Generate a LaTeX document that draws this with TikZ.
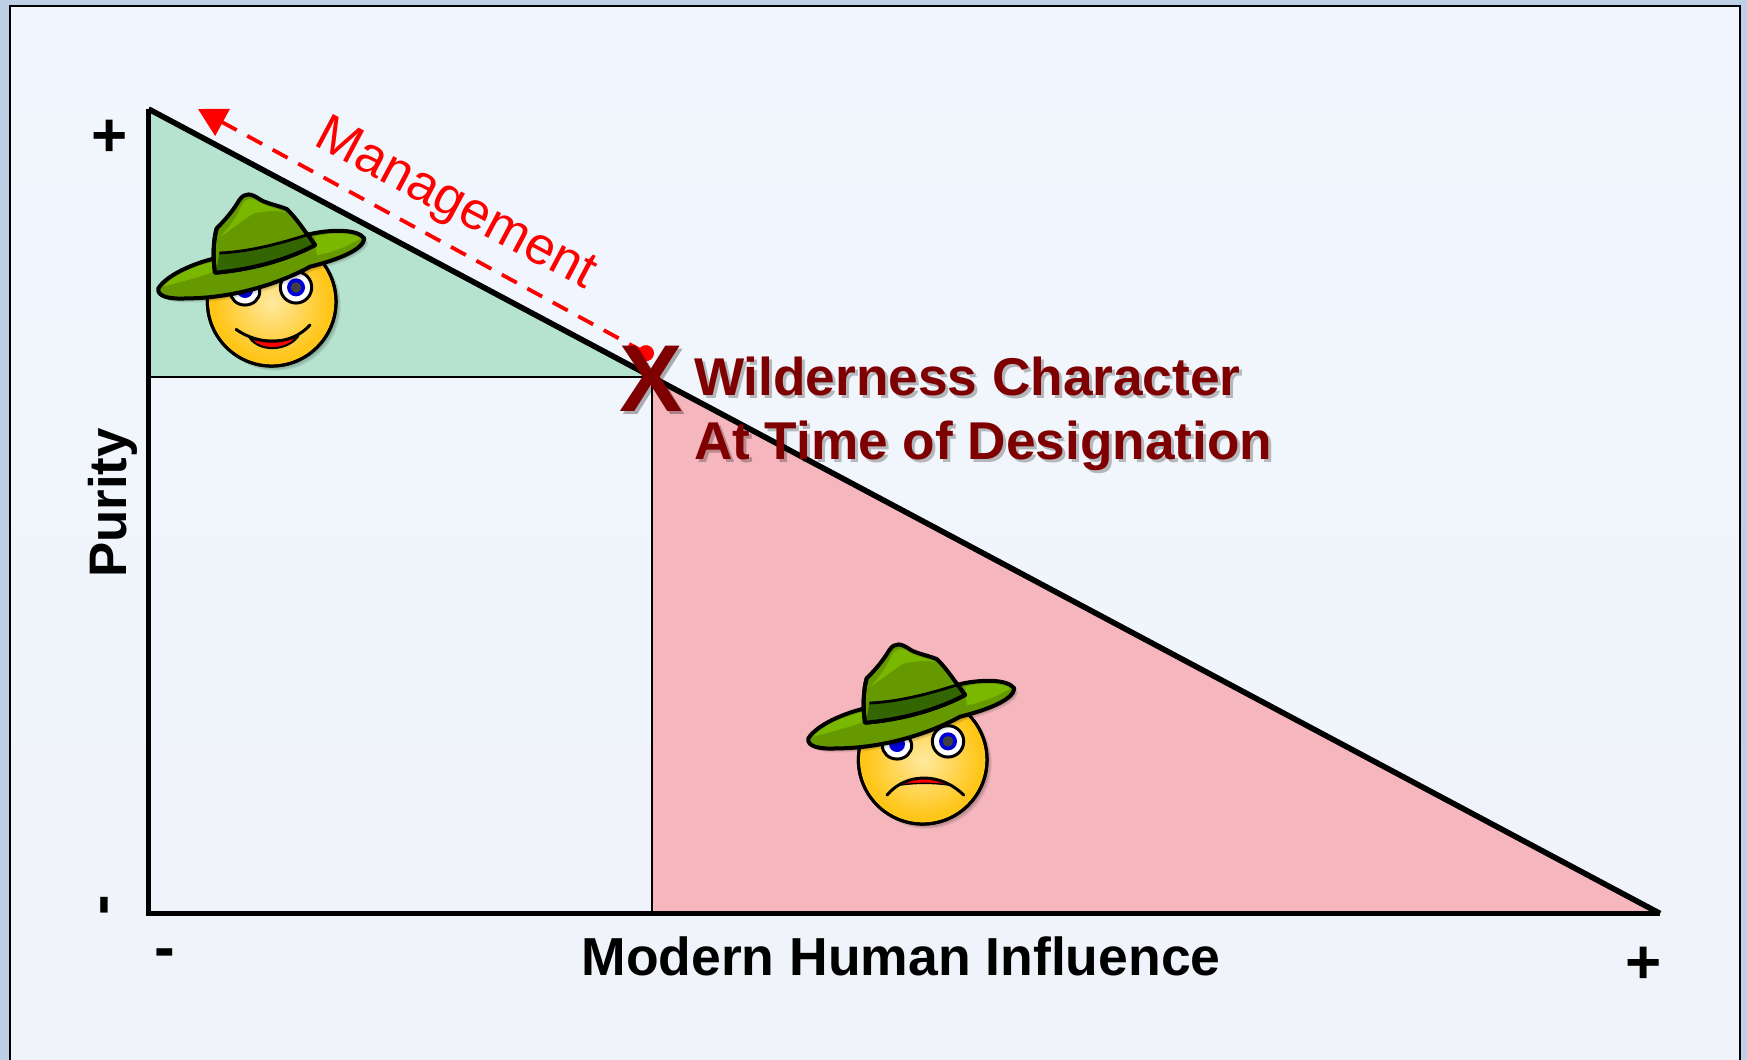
\documentclass[tikz,border=0pt]{standalone}
\usepackage{fontspec}
\setmainfont{Liberation Sans}
\usetikzlibrary{arrows.meta}
\definecolor{panelblue}{HTML}{BDD0E6}
\definecolor{paneltop}{HTML}{F1F6FE}
\definecolor{panelbot}{HTML}{F0F3F9}
\definecolor{goodgreen}{HTML}{B5E3D0}
\definecolor{badpink}{HTML}{F5B7BD}
\definecolor{darkred}{HTML}{7F0000}
\definecolor{hatgreen}{HTML}{669900}
\definecolor{hatlight}{HTML}{7AB800}
\definecolor{hatband}{HTML}{336600}
\definecolor{facegold}{HTML}{FFC61A}
\definecolor{faceglow}{HTML}{FFE9A0}
\pgfdeclareradialshading{faceshine}{\pgfpoint{0bp}{0bp}}{color(0bp)=(faceglow); color(22bp)=(facegold); color(100bp)=(facegold)}
\tikzset{
  axislabel/.style={font=\bfseries\fontsize{26.75}{30}\selectfont},
  purilabel/.style={font=\bfseries\fontsize{26.4}{30}\selectfont},
  signlabel/.style={font=\bfseries\fontsize{31}{34}\selectfont},
  marklabel/.style={font=\bfseries\fontsize{26.6}{31.8}\selectfont,text=darkred,align=left,anchor=base west},
  inkline/.style={draw=black,line width=1.5pt,line join=round},
  thinline/.style={draw=black,line width=1.4pt},
  axisline/.style={draw=black,line width=2.8pt,line join=miter},
  mgmtarrow/.style={draw=red,line width=1.9pt,dash pattern=on 8.5pt off 6pt,{Triangle[length=14pt,width=15pt]}-{Circle[length=8pt,width=8pt]}},
}
% hat and face are drawn in units of 1/3 pixel
\newcommand{\rangerhat}[2]{
  \begin{scope}[shift={(#1,#2)},x=0.1667pt,y=-0.1667pt]
    \foreach \s in {3,6,9,12}{
      \fill[black,opacity=0.08,shift={(\s,\s)}] (85,595) .. controls (110,555) and (190,520) .. (255,505) -- (550,430) .. controls (600,420) and (680,415) .. (703,445) .. controls (700,480) and (620,510) .. (540,530) .. controls (440,585) and (300,625) .. (170,625) .. controls (120,628) and (80,620) .. (85,595) -- cycle;
    }
    \path[inkline,fill=hatgreen,line width=2pt] (85,595) .. controls (110,555) and (190,520) .. (255,505) -- (550,430) .. controls (600,420) and (680,415) .. (703,445) .. controls (700,480) and (620,510) .. (540,530) .. controls (440,585) and (300,625) .. (170,625) .. controls (120,628) and (80,620) .. (85,595) -- cycle;
    \fill[hatlight] (100,590) .. controls (130,555) and (190,530) .. (250,515) -- (250,545) .. controls (200,565) and (150,575) .. (100,590) -- cycle;
    \fill[hatlight] (555,440) .. controls (600,428) and (660,425) .. (692,445) .. controls (650,470) and (600,490) .. (560,495) -- cycle;
    \path[inkline,fill=hatgreen,line width=2pt] (255,548) .. controls (248,500) and (250,450) .. (260,415) .. controls (290,385) and (310,360) .. (328,330) .. controls (345,305) and (365,312) .. (385,325) .. controls (405,340) and (440,345) .. (470,357) .. controls (500,385) and (525,425) .. (555,465) .. controls (460,515) and (350,540) .. (255,548) -- cycle;
    \fill[hatlight] (272,440) .. controls (300,405) and (320,385) .. (335,345) .. controls (350,320) and (370,325) .. (385,335) .. controls (405,350) and (440,355) .. (465,365) .. controls (430,360) and (400,365) .. (370,370) .. controls (340,390) and (300,420) .. (272,440) -- cycle;
    \fill[hatband] (268,489) .. controls (360,485) and (450,460) .. (530,435) -- (553,465) .. controls (460,515) and (350,540) .. (258,548) -- cycle;
    \path[inkline,line width=1.4pt] (268,489) .. controls (360,485) and (450,460) .. (530,435);
    \path[inkline,line width=2pt] (260,415) .. controls (250,450) and (248,500) .. (255,548) .. controls (350,540) and (460,515) .. (555,465) -- (530,430);
  \end{scope}
}
\newcommand{\rangerface}[3]{
  \begin{scope}[shift={(#1,#2)},x=0.1667pt,y=-0.1667pt]
    \foreach \s in {3,6,9,12}{
      \fill[black,opacity=0.08] (425+\s,635+\s) circle[radius=195];
    }
    \path[inkline,shading=faceshine] (425,635) circle[radius=193];
    \path[inkline] (425,635) circle[radius=193];
    #3
  \end{scope}
}
\newcommand{\rangereyes}[2]{
  \begin{scope}[shift={(#1,#2)},x=0.1667pt,y=-0.1667pt]
    \path[inkline,fill=white] (345,605) circle[x radius=44,y radius=40];
    \fill[blue!85!black] (345,600) circle[radius=24];
    \path[inkline,fill=white] (498,592) circle[radius=47];
    \fill[blue!85!black] (498,592) circle[radius=27];
    \fill[black!75] (498,592) circle[radius=16];
  \end{scope}
}
\begin{document}
\begin{tikzpicture}[x=0.5pt,y=-0.5pt]
  \useasboundingbox (0,0) rectangle (1747,1060);
  \fill[panelblue] (0,0) rectangle (1747,1060);
  \path[top color=paneltop,bottom color=panelbot] (10,6) rectangle (1740,1060);
  \draw[black,line width=1.4pt] (10,1060) -- (10,6) -- (1740,6) -- (1740,1060);

  \coordinate (origin) at (148.5,913.5);
  \coordinate (peak) at (148.5,109);
  \coordinate (tip) at (1660,913.5);
  \coordinate (mark) at (652,377);
  \coordinate (markfoot) at (652,913.5);
  \coordinate (markside) at (148.5,377);
  \coordinate (arrowfree) at (198,109);
  \coordinate (arrowstart) at (653,357);

  \fill[goodgreen] (markside) -- (peak) -- (mark) -- cycle;
  \fill[badpink] (mark) -- (tip) -- (markfoot) -- cycle;
  \draw[thinline] (markside) -- (mark);
  \draw[thinline] (mark) -- (markfoot);
  \draw[axisline] (peak) -- (origin) -- (tip);
  \draw[axisline] (peak) -- (tip);

  \draw[mgmtarrow] (arrowfree) -- (arrowstart);
  \node[rotate=-28,text=red,font=\fontsize{26.4}{30}\selectfont] (mgmtlabel) at (455,206) {Management};

  % happy ranger
  \rangerface{130}{90}{
    \path[inkline,line width=1pt,fill=red] (360,745) .. controls (400,755) and (470,755) .. (505,738) .. controls (470,785) and (390,785) .. (360,745) -- cycle;
    \path[inkline,line cap=round] (318,718) .. controls (385,765) and (480,770) .. (540,705);
  }
  \rangereyes{130}{90}
  \rangerhat{130}{90}

  % sad ranger
  \rangerface{781}{548}{
    \fill[red] (352,712) .. controls (400,680) and (460,680) .. (510,712) .. controls (460,704) and (400,704) .. (352,712) -- cycle;
    \path[inkline,line width=0.7pt] (352,712) .. controls (400,704) and (460,704) .. (510,712);
    \path[inkline,line cap=round] (318,741) .. controls (375,673) and (480,673) .. (548,741);
  }
  \rangereyes{782}{544}
  \rangerhat{780}{540}

  \node[font=\bfseries\fontsize{47.5}{50}\selectfont,text=black,opacity=0.3] (xshadow) at (654,382) {X};
  \node[font=\bfseries\fontsize{47.5}{50}\selectfont,text=darkred] (xmark) at (651,379) {X};

  \node[marklabel,text=black,opacity=0.25] (charshadow) at (690,462) {Wilderness Character\\At Time of Designation};
  \node[marklabel] (charlabel) at (687,459) {Wilderness Character\\At Time of Designation};

  \node[axislabel] (xaxis) at (901,956) {Modern Human Influence};
  \node[purilabel,rotate=90] (yaxis) at (113,503) {Purity};
  \node[signlabel] (yplus) at (110,138) {+};
  \node[signlabel,rotate=90] (yminus) at (111,905) {-};
  \node[signlabel] (xminus) at (165,959) {-};
  \node[signlabel] (xplus) at (1644,965) {+};
\end{tikzpicture}
\end{document}
